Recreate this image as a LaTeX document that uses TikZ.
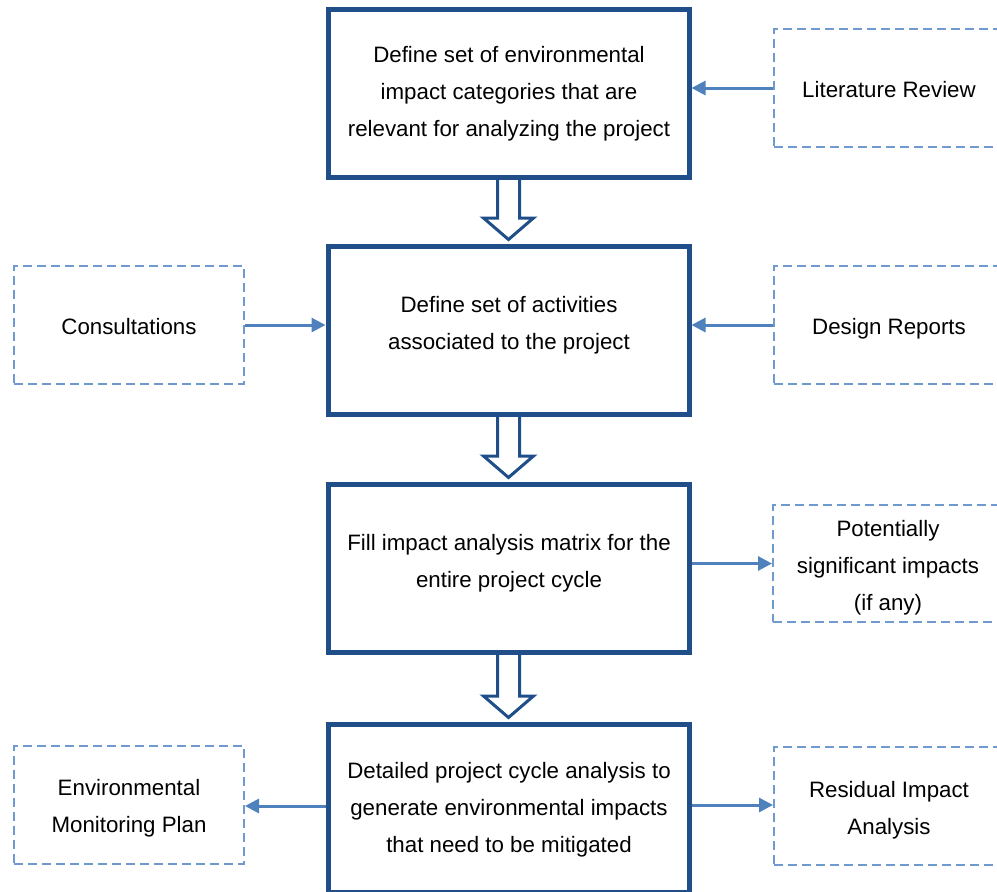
\documentclass[tikz,border=0pt]{standalone}
\usepackage{fontspec}
\setmainfont{Liberation Sans}
\usetikzlibrary{arrows.meta,calc}

\definecolor{navy}{HTML}{1F4E89}
\definecolor{flowblue}{HTML}{4F81BD}
\definecolor{dashblue}{HTML}{6E9AD0}

\tikzset{
  mainbox/.style={draw=navy, line width=5pt, minimum width=361pt, minimum height=168pt, inner sep=0pt},
  % text block of #1 lines, centred on the middle of its letters
  lines/.style={align=center, text height={19pt+(#1-1)*37pt}, text depth=0pt},
  sidebox/.style={draw=dashblue, line width=2pt, dash pattern=on 9pt off 5pt,
    minimum width=230pt, minimum height=118pt, inner sep=0pt, lines=#1},
  sidebox/.default=1,
  boxtext/.style={inner sep=0pt, lines=#1},
  feed/.style={draw=flowblue, line width=3pt, -{Triangle[length=14pt,width=14pt]}},
  hollow/.style={draw=navy, line width=3pt, line join=miter},
}

\begin{document}
\begin{tikzpicture}[x=1pt, y=-1pt, font=\fontsize{22.3}{37}\selectfont]
  \path[use as bounding box, clip] (0,0) rectangle (997,892);

  % main process steps
  \node[mainbox] (b1) at (508.5,93.5) {};
  \node[mainbox] (b2) at (508.5,330.5) {};
  \node[mainbox] (b3) at (508.5,568.5) {};
  \node[mainbox] (b4) at (508.5,808.5) {};

  \node[boxtext=3] (t1) at (509,90) {Define set of environmental\\impact categories that are\\relevant for analyzing the project};
  \node[boxtext=2] (t2) at (509,321) {Define set of activities\\associated to the project};
  \node[boxtext=2] (t3) at (509,559.5) {Fill impact analysis matrix for the\\entire project cycle};
  \node[boxtext=3] (t4) at (509,806) {Detailed project cycle analysis to\\generate environmental impacts\\that need to be mitigated};

  % inputs and outputs
  \node[sidebox] (lit) at (889,88) {Literature Review};
  \node[sidebox] (con) at (129,325) {Consultations};
  \node[sidebox] (des) at (889,325) {Design Reports};
  \node[sidebox=3, minimum height=117pt] (pot) at (888,563.5) {Potentially\\significant impacts\\(if any)};
  \node[sidebox=2, text depth=-4pt] (env) at (129,804.5) {Environmental\\Monitoring Plan};
  \node[sidebox=2, text depth=-6pt] (res) at (889,806) {Residual Impact\\Analysis};

  % thin connectors
  \draw[feed] (lit.west) -- (lit.west -| b1.east);
  \draw[feed] (con.east) -- (con.east -| b2.west);
  \draw[feed] (des.west) -- (des.west -| b2.east);
  \draw[feed] (pot.west -| b3.east) -- (pot.west);
  \draw[feed] ([yshift=-1.5pt]env.east -| b4.west) -- ([yshift=-1.5pt]env.east);
  \draw[feed] ([yshift=1pt]res.west -| b4.east) -- ([yshift=1pt]res.west);

  % hollow block arrows between steps
  \foreach \a/\b in {b1/b2, b2/b3, b3/b4}{
    \draw[hollow] ($(\a.south)+(-11,0)$) -- ($(\b.north)+(-11,-26)$)
      -- ($(\b.north)+(-25,-26)$) -- ($(\b.north)+(0,-4.5)$)
      -- ($(\b.north)+(25,-26)$) -- ($(\b.north)+(11,-26)$)
      -- ($(\a.south)+(11,0)$);
  }
\end{tikzpicture}
\end{document}
